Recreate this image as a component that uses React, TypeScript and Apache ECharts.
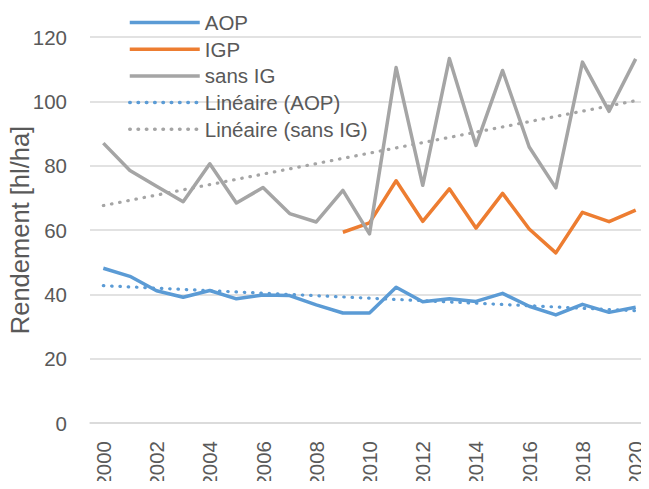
import React, { useEffect, useRef } from "react";
import * as echarts from "echarts";

const years = [
  "2000", "2001", "2002", "2003", "2004", "2005", "2006", "2007", "2008", "2009", "2010",
  "2011", "2012", "2013", "2014", "2015", "2016", "2017", "2018", "2019", "2020",
];
const aop = [48.1, 45.6, 41.1, 39.1, 41.2, 38.6, 39.8, 39.6, 36.7, 34.2, 34.2, 42.2, 37.7, 38.6, 37.8, 40.3, 36.3, 33.6, 36.9, 34.4, 36.0];
const igp = [null, null, null, null, null, null, null, null, null, 59.3, 62.2, 75.3, 62.7, 72.8, 60.6, 71.4, 60.3, 52.9, 65.5, 62.6, 66.2];
const sansIG = [87.0, 78.5, 73.6, 68.8, 80.6, 68.4, 73.2, 65.1, 62.5, 72.3, 58.8, 110.5, 73.9, 113.3, 86.3, 109.6, 85.8, 73.1, 112.2, 96.9, 113.2];
// trend lines, read at their two ends (2000 and 2020)
const trendAOP = [["2000", 42.7], ["2020", 34.9]];
const trendSansIG = [["2000", 67.6], ["2020", 100.2]];

const FONT = "Liberation Sans";
const TXT = "#595959";

export default function App() {
  const ref = useRef<HTMLDivElement>(null);
  useEffect(() => {
    if (!ref.current) return;
    const chart = echarts.init(ref.current, null, { renderer: "svg" });
    const dotted = (color: string) => ({
      color,
      width: 3.2,
      type: [0.5, 7.8],
      cap: "round",
    });
    chart.setOption({
      animation: false,
      textStyle: { fontFamily: FONT },
      grid: {
        left: 90,
        right: 0,
        top: 37,
        bottom: 66,
        containLabel: false,
        outerBoundsMode: "none",
      },
      legend: {
        orient: "vertical",
        left: 123,
        top: 7,
        itemWidth: 70,
        itemHeight: 14,
        itemGap: 5.7,
        itemStyle: { opacity: 0 },
        lineStyle: { width: 3.5 },
        textStyle: { fontSize: 20.5, color: TXT, lineHeight: 21, fontFamily: FONT },
        data: ["AOP", "IGP", "sans IG", "Linéaire (AOP)", "Linéaire (sans IG)"],
      },
      xAxis: {
        type: "category",
        data: years,
        boundaryGap: true,
        axisLine: { show: true, lineStyle: { color: "#D9D9D9", width: 1.5 } },
        axisTick: { show: false },
        axisLabel: {
          rotate: 90,
          interval: 1,
          margin: 18,
          fontSize: 20.5,
          color: TXT,
          fontFamily: FONT,
        },
      },
      yAxis: {
        type: "value",
        min: 0,
        max: 120,
        interval: 20,
        name: "Rendement [hl/ha]",
        nameLocation: "middle",
        nameRotate: 90,
        nameGap: 57,
        nameMoveOverlap: false,
        nameTextStyle: { fontSize: 25.5, color: TXT, fontFamily: FONT },
        axisLine: { show: false },
        axisTick: { show: false },
        axisLabel: { fontSize: 20.5, color: TXT, margin: 23, fontFamily: FONT },
        splitLine: { lineStyle: { color: "#D9D9D9", width: 1.5 } },
      },
      series: [
        {
          name: "AOP",
          type: "line",
          data: aop,
          symbol: "none",
          lineStyle: { color: "#5B9BD5", width: 3.5, join: "round" },
          itemStyle: { color: "#5B9BD5" },
        },
        {
          name: "IGP",
          type: "line",
          data: igp,
          symbol: "none",
          lineStyle: { color: "#ED7D31", width: 3.5, join: "round" },
          itemStyle: { color: "#ED7D31" },
        },
        {
          name: "sans IG",
          type: "line",
          data: sansIG,
          symbol: "none",
          lineStyle: { color: "#A5A5A5", width: 3.5, join: "round" },
          itemStyle: { color: "#A5A5A5" },
        },
        {
          name: "Linéaire (AOP)",
          type: "line",
          data: trendAOP,
          symbol: "none",
          lineStyle: dotted("#5B9BD5"),
          itemStyle: { color: "#5B9BD5" },
        },
        {
          name: "Linéaire (sans IG)",
          type: "line",
          data: trendSansIG,
          symbol: "none",
          lineStyle: dotted("#A5A5A5"),
          itemStyle: { color: "#A5A5A5" },
        },
      ],
    });
    return () => chart.dispose();
  }, []);
  return <div ref={ref} style={{ width: 649, height: 489, margin: -8 }} />;
}
